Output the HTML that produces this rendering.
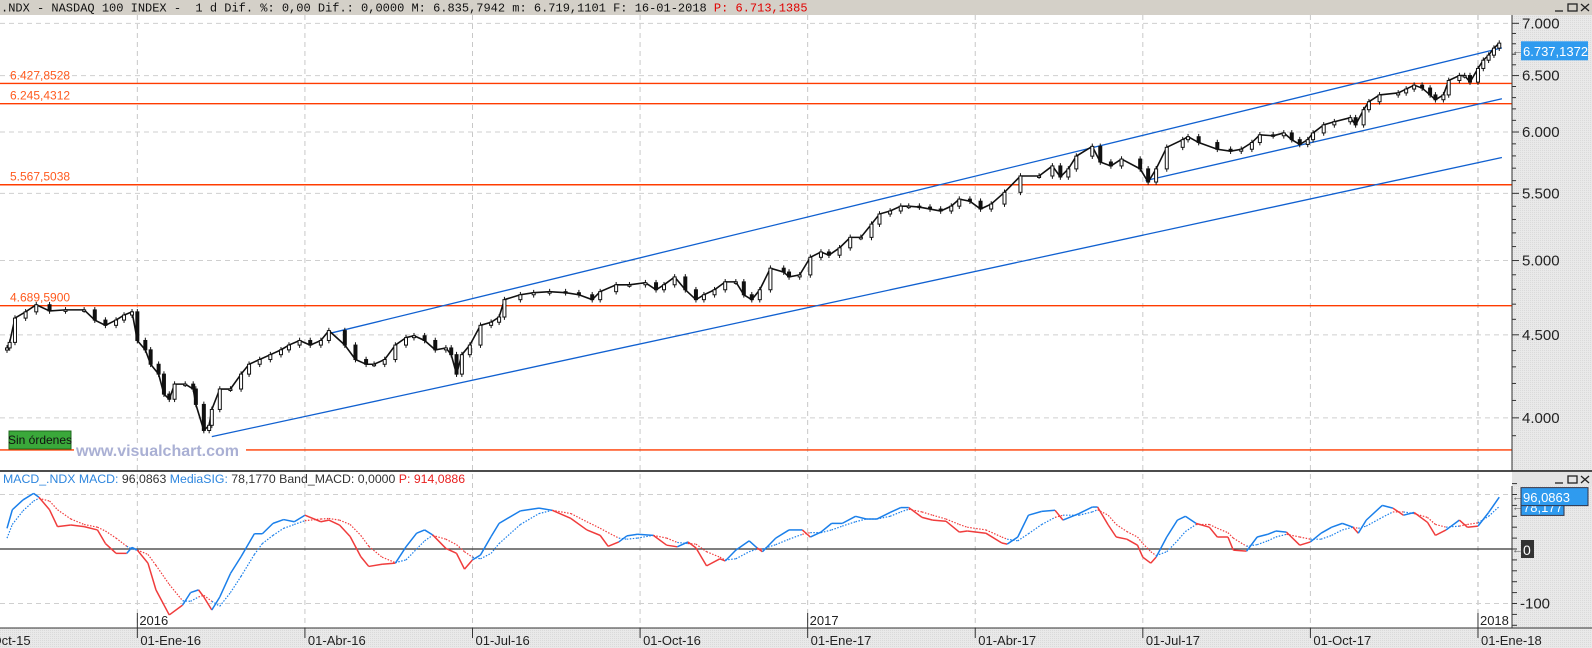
<!DOCTYPE html>
<html><head><meta charset="utf-8">
<style>
body{margin:0;background:#fff;}
svg{display:block;font-family:"Liberation Sans",sans-serif;}
</style></head>
<body>
<svg id="chart" width="1592" height="648" viewBox="0 0 1592 648" xmlns="http://www.w3.org/2000/svg">
<defs>
<pattern id="dith" width="2" height="2" patternUnits="userSpaceOnUse"><rect width="2" height="2" fill="#e9e9e9"/><rect width="1" height="1" fill="#dadada"/></pattern>
</defs>
<rect x="0" y="0" width="1592" height="648" fill="#fff"/>
<rect x="1512" y="15" width="80" height="456" fill="url(#dith)"/>
<rect x="1512" y="486" width="80" height="142" fill="url(#dith)"/>
<rect x="1512" y="472" width="80" height="14" fill="#e4e4e4"/>
<rect x="0" y="628" width="1592" height="20" fill="url(#dith)"/>
<g id="grid"></g>
<g id="price"></g>
<g id="macd"></g>
<g id="axes"></g>
<rect x="0" y="0" width="1592" height="15" fill="#d4d0c8"/>
<text x="1" y="11.5" font-family="Liberation Mono, monospace" font-size="12" fill="#111" xml:space="preserve">.NDX - NASDAQ 100 INDEX -  1 d Dif. %: 0,00 Dif.: 0,0000 M: 6.835,7942 m: 6.719,1101 F: 16-01-2018 <tspan fill="#e00000">P: 6.713,1385</tspan></text>
<g stroke="#222" fill="none" stroke-width="1.3">
<line x1="1555" y1="11" x2="1563" y2="11"/><rect x="1568" y="4" width="9" height="7"/><line x1="1581" y1="4" x2="1589" y2="11"/><line x1="1589" y1="4" x2="1581" y2="11"/>
</g>
<line x1="0" y1="471" x2="1592" y2="471" stroke="#111" stroke-width="1.5"/>
<line x1="0" y1="628" x2="1592" y2="628" stroke="#333" stroke-width="1"/>
<line x1="1512" y1="15" x2="1512" y2="471" stroke="#333"/>
<line x1="1512" y1="486" x2="1512" y2="628" stroke="#333"/>
<text x="3" y="483" font-size="12.3" fill="#333"><tspan fill="#2e86de">MACD_.NDX MACD:</tspan> 96,0863 <tspan fill="#2e86de">MediaSIG:</tspan> 78,1770 Band_MACD: 0,0000 <tspan fill="#e82020">P: 914,0886</tspan></text>
<g stroke="#222" fill="none" stroke-width="1.3">
<line x1="1555" y1="483" x2="1563" y2="483"/><rect x="1568" y="476" width="9" height="7"/><line x1="1581" y1="476" x2="1589" y2="483"/><line x1="1589" y1="476" x2="1581" y2="483"/>
</g>
<rect x="9" y="431" width="62" height="18" fill="#3aa83a" stroke="#1d6a1d"/>
<text x="40" y="444" font-size="12" text-anchor="middle" fill="#111">Sin órdenes</text>
</svg>
<script>
// ---- price data (session index, close) ----
const sessions = [0,1,3,7,11,16,22,29,33,37,41,44,47,49,52,54,57,59,61,63,67,70,71,74,76,77,80,84,88,91,95,99,103,106,110,114,118,121,127,131,135,138,142,146,150,153,157,161,165,167,169,171,174,178,182,185,187,193,198,204,210,215,220,223,229,234,240,244,247,251,255,259,262,266,270,274,277,280,283,287,292,294,298,302,306,309,313,317,321,325,328,332,336,339,343,347,351,355,358,362,366,370,375,381,388,393,396,399,402,408,411,415,419,426,429,432,436,442,444,448,455,460,464,468,471,476,480,483,486,489,491,495,499,505,507,510,512,516,523,526,529,532,535,537,540,542,546,548,550,553,555,557,559,561];
const closes = [4417,4452,4608,4649,4696,4655,4662,4662,4595,4561,4595,4628,4649,4464,4405,4316,4256,4137,4107,4196,4196,4167,4077,3929,3958,4048,4167,4167,4256,4316,4345,4375,4405,4435,4464,4435,4464,4527,4435,4345,4316,4316,4345,4435,4482,4494,4464,4405,4417,4375,4256,4375,4435,4561,4581,4615,4730,4763,4777,4784,4777,4763,4730,4784,4831,4831,4845,4797,4831,4885,4797,4730,4763,4797,4851,4851,4763,4730,4797,4946,4919,4885,4899,5023,5061,5038,5091,5167,5167,5265,5341,5364,5401,5401,5394,5379,5364,5401,5455,5439,5379,5417,5508,5637,5637,5718,5629,5694,5798,5879,5750,5718,5774,5694,5589,5694,5871,5935,5960,5911,5855,5839,5855,5911,5976,5968,5992,5935,5895,5935,5992,6061,6088,6123,6061,6193,6263,6324,6342,6377,6412,6386,6324,6281,6324,6455,6500,6500,6440,6566,6643,6691,6758,6806];
const priceTicks = [7000,6500,6000,5500,5000,4500,4000];
const priceTickLabels = ["7.000","6.500","6.000","5.500","5.000","4.500","4.000"];
const levels = [6427.8528,6245.4312,5567.5038,4689.59,3822];
const levelLabels = ["6.427,8528","6.245,4312","5.567,5038","4.689,5900",""];
// channel lines: [startSession, startPrice, endSession, endPrice]
const channelUpper = [122, 4512, 562, 6760];
const channelLower = [77, 3895, 562, 5787];
const channelShort = [428, 5600, 562, 6290];
// ---- MACD data ----
const macdIdx = [0,2,6,10,12,16,19,24,29,34,37,41,45,47,49,53,56,61,66,69,72,74,77,80,84,88,93,96,100,104,108,112,118,121,125,129,133,136,141,146,150,154,157,160,165,169,172,175,178,182,185,193,200,205,212,218,223,226,230,233,237,243,248,252,256,259,263,268,270,274,279,282,284,289,294,299,302,306,310,314,319,323,327,332,336,339,344,348,353,358,361,368,374,376,380,384,389,394,397,403,408,410,414,417,421,425,427,430,432,436,440,443,447,452,455,459,461,466,470,474,477,481,486,490,494,498,502,506,508,511,517,521,525,529,534,537,541,546,549,553,557,561];
const macdVals = [38,72,90,102,95,72,41,44,41,35,10,-8,-8,3,-2,-26,-75,-121,-103,-80,-75,-88,-112,-88,-45,-14,28,28,47,54,50,62,50,53,44,23,-14,-32,-28,-26,4,29,35,26,1,-8,-37,-20,-11,23,47,70,75,71,56,35,25,5,13,24,27,25,7,4,13,2,-31,-18,-22,-2,15,2,-5,20,35,35,22,31,47,47,60,55,55,67,76,76,58,53,51,31,33,29,11,9,22,62,69,71,53,65,77,77,44,22,18,7,-15,-26,-15,22,53,60,47,40,22,22,-2,-4,22,27,33,31,7,13,29,40,47,40,29,53,80,75,62,67,49,25,35,53,40,42,67,95];
const sigVals = [20,45,70,88,93,88,72,55,45,40,33,20,5,0,-2,-10,-30,-65,-95,-96,-88,-85,-96,-105,-80,-50,-10,10,25,38,45,52,55,56,53,45,25,5,-15,-25,-20,0,15,25,18,8,-5,-15,-18,-8,10,45,65,71,65,50,38,30,20,18,20,25,20,12,10,9,-5,-15,-20,-18,-5,0,0,8,18,27,30,30,35,42,50,55,55,60,68,73,68,62,55,45,40,35,22,18,15,28,45,58,62,62,68,72,62,45,32,22,10,-5,-12,-5,15,32,45,45,38,30,20,5,8,15,22,27,22,18,18,25,35,40,38,42,58,68,68,65,58,45,40,42,45,48,60,78];
const macdTicks = [100,0,-100];
// ---- time axis ----
const dateTickIdx = [-14,49,112,175,238,301,364,427,490,553];
const dateTickLabels = ["01-Oct-15","01-Ene-16","01-Abr-16","01-Jul-16","01-Oct-16","01-Ene-17","01-Abr-17","01-Jul-17","01-Oct-17","01-Ene-18"];
const yearTickIdx = [49,301,553];
const yearLabels = ["2016","2017","2018"];

const NS="http://www.w3.org/2000/svg";
const xS = i => 7 + 2.66*i;
const yP = v => 132 + 705*Math.log(6000/v);
const yM = v => 549 - 0.545*v;
function mk(tag, attrs, parent){const e=document.createElementNS(NS,tag);for(const k in attrs)e.setAttribute(k,attrs[k]);parent.appendChild(e);return e;}
const grid=document.getElementById('grid'), price=document.getElementById('price'), macd=document.getElementById('macd'), axes=document.getElementById('axes');

dateTickIdx.forEach((d,k)=>{
  if(k===0) return;
  const x=xS(d);
  const l=mk('line',{x1:x,y1:15,x2:x,y2:628,stroke:k===dateTickIdx.length-1?'#b8b8b8':'#c8c8c8','stroke-dasharray':'5 4'},grid);
  
  
});
priceTicks.forEach(v=>{
  const y=yP(v);
  const l=mk('line',{x1:0,y1:y,x2:1512,y2:y,stroke:'#cfcfcf','stroke-dasharray':'5 4'},grid);
  
  
});
[100,-100].forEach(v=>{
  const y=yM(v);
  const l=mk('line',{x1:0,y1:y,x2:1512,y2:y,stroke:'#cfcfcf','stroke-dasharray':'5 4'},grid);
  
  
});

levels.forEach((v,k)=>{
  const y=yP(v);
  const l=mk('line',{x1:0,y1:y,x2:1512,y2:y,stroke:'#ff3c00','stroke-width':1.4},price);
  
  
  if(levelLabels[k]){
    const t=mk('text',{x:10,y:y-4,'font-size':12,fill:'#ff5a1e'},price);
    t.textContent=levelLabels[k];
    
    
  }
});
const wmb=mk('rect',{x:74,y:444,width:172,height:14,fill:'#fff'},price);


const wm=mk('text',{x:76,y:456,'font-size':16,'font-weight':'bold',fill:'#aab0d4'},price);
wm.textContent='www.visualchart.com';



[channelUpper,channelLower,channelShort].forEach(c=>{
  const l=mk('line',{x1:xS(c[0]),y1:yP(c[1]),x2:xS(c[2]),y2:yP(c[3]),stroke:'#1060d0','stroke-width':1.3},price);
  
  
});

const pl=mk('polyline',{points:sessions.map((s,k)=>xS(s)+','+yP(closes[k])).join(' '),fill:'none',stroke:'#111','stroke-width':1.6},price);


sessions.forEach((s,k)=>{
  const c=closes[k], o=k?closes[k-1]:c*0.997;
  const x=xS(s), yo=yP(o), yc=yP(c);
  const hi=Math.max(o,c)*1.004, lo=Math.min(o,c)*0.996;
  const w=mk('line',{x1:x,y1:yP(hi),x2:x,y2:yP(lo),stroke:'#111','stroke-width':1},price);
  
  
  const up=c>=o;
  const b=mk('rect',{x:x-1.5,y:Math.min(yo,yc),width:3,height:Math.max(1.5,Math.abs(yo-yc)),fill:up?'#fff':'#111',stroke:'#111','stroke-width':1},price);
  
  
});

for(let v=3900;v<=7000;v+=100){
  const y=yP(v);
  const t=mk('line',{x1:1512,y1:y,x2:v%500===0?1519:1516,y2:y,stroke:'#333'},axes);
  
  
}
priceTicks.forEach((v,k)=>{
  const t=mk('text',{x:1522,y:yP(v)+5,'font-size':15,fill:'#222'},axes);
  t.textContent=priceTickLabels[k];
  
  
});
const lastY=yP(6737.1372);
const arr=mk('text',{x:1512,y:lastY+4,'font-size':11,fill:'#555'},axes);
arr.textContent='←';


const lb=mk('rect',{x:1521,y:lastY-9,width:67,height:19,fill:'#2f9bef'},axes);


const lt=mk('text',{x:1523,y:lastY+5.5,'font-size':13,fill:'#fff'},axes);
lt.textContent='6.737,1372';



const z=mk('line',{x1:0,y1:yM(0),x2:1512,y2:yM(0),stroke:'#333','stroke-width':1.3},macd);


for(let k=0;k<macdIdx.length-1;k++){
  const above=macdVals[k+1]>=sigVals[k+1];
  const col=above?'#1a7fea':'#f03c3c';
  const s=mk('line',{x1:xS(macdIdx[k]),y1:yM(sigVals[k]),x2:xS(macdIdx[k+1]),y2:yM(sigVals[k+1]),stroke:col,'stroke-width':1.2,'stroke-dasharray':'1.5 1.5'},macd);
  
  
  const m=mk('line',{x1:xS(macdIdx[k]),y1:yM(macdVals[k]),x2:xS(macdIdx[k+1]),y2:yM(macdVals[k+1]),stroke:col,'stroke-width':1.5},macd);
  
  
}
for(let v=-140;v<=120;v+=20){
  const y=yM(v);
  const t=mk('line',{x1:1512,y1:y,x2:1517,y2:y,stroke:'#333'},axes);
  
  
}
const ml=mk('text',{x:1520,y:yM(-100)+5,'font-size':15,fill:'#222'},axes);
ml.textContent='-100';


const zb=mk('rect',{x:1521,y:yM(0)-9,width:13,height:18,fill:'#333'},axes);


const zt=mk('text',{x:1523,y:yM(0)+6,'font-size':14,fill:'#fff'},axes);
zt.textContent='0';


const sb=mk('rect',{x:1521,y:yM(78.177)-8,width:43,height:17,fill:'#2f9bef',stroke:'#334'},axes);


const st=mk('text',{x:1523,y:yM(78.177)+5.5,'font-size':13,fill:'#fff'},axes);
st.textContent='78,177';


const mb=mk('rect',{x:1521,y:yM(96.0863)-9,width:67,height:18,fill:'#2f9bef',stroke:'#334'},axes);


const mt=mk('text',{x:1523,y:yM(96.0863)+5.5,'font-size':13,fill:'#fff'},axes);
mt.textContent='96,0863';


['←','←','←'].forEach((a,k)=>{
  const y=[yM(96.0863),yM(78.177),yM(0)][k];
  const t=mk('text',{x:1512,y:y+4,'font-size':11,fill:'#555'},axes);
  t.textContent=a;
  
  
});

dateTickIdx.forEach((d,k)=>{
  const x=xS(d);
  const t=mk('line',{x1:x,y1:628,x2:x,y2:638,stroke:'#333'},axes);
  
  
  const l=mk('text',{x:x+3,y:645,'font-size':13,fill:'#222'},axes);
  l.textContent=dateTickLabels[k];
  
  
});
yearTickIdx.forEach((d,k)=>{
  const x=xS(d);
  const t=mk('line',{x1:x,y1:613,x2:x,y2:628,stroke:'#333'},axes);
  
  
  const l=mk('text',{x:x+2,y:625,'font-size':13,fill:'#222'},axes);
  l.textContent=yearLabels[k];
  
  
});
</script>
</body></html>
